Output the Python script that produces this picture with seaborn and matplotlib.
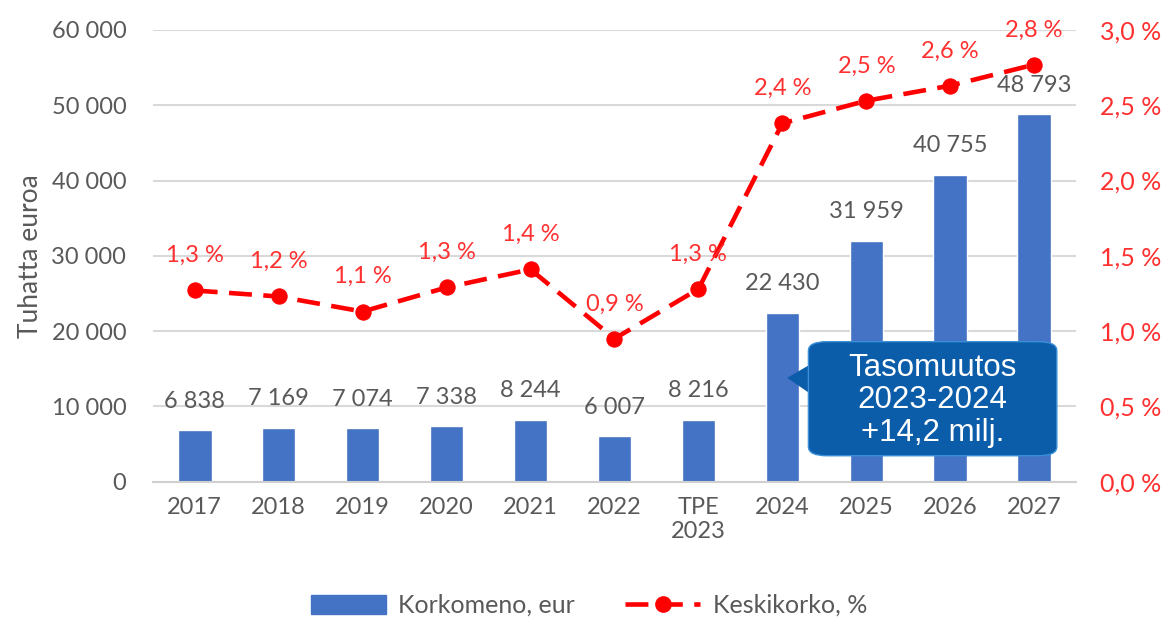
import matplotlib
matplotlib.use("Agg")
import matplotlib.pyplot as plt
import seaborn as sns
import pandas as pd
from matplotlib.patches import Patch, FancyBboxPatch, Polygon
from matplotlib.lines import Line2D
from matplotlib.ticker import FixedLocator

# Data
years = ["2017", "2018", "2019", "2020", "2021", "2022", "TPE\n2023",
         "2024", "2025", "2026", "2027"]
korkomeno = [6838, 7169, 7074, 7338, 8244, 6007, 8216,
             22430, 31959, 40755, 48793]
keskikorko = [1.27, 1.23, 1.13, 1.29, 1.41, 0.95, 1.28,
              2.38, 2.53, 2.63, 2.77]
left_ticks = [0, 10000, 20000, 30000, 40000, 50000, 60000]
right_ticks = [0.0, 0.5, 1.0, 1.5, 2.0, 2.5, 3.0]

BAR = "#4472C4"
RED = "#FF0000"
RED_TXT = "#FF3030"
GRAY = "#595959"


def fmt_thousands(v):
    return "{:,}".format(int(v)).replace(",", " ")


def fmt_pct(v, dec=1):
    return ("{:.%df}" % dec).format(v).replace(".", ",") + " %"


sns.set_style("white")
plt.rcParams["font.family"] = ["Lato", "DejaVu Sans"]

df = pd.DataFrame({"year": years, "korkomeno": korkomeno,
                   "keskikorko": keskikorko, "pos": range(len(years))})

fig = plt.figure(figsize=(11.66, 6.24), dpi=100)
ax = fig.add_axes([0.131, 0.228, 0.792, 0.724])

sns.barplot(data=df, x="year", y="korkomeno", color=BAR, width=0.4,
            saturation=1, ax=ax)
ax.set_ylim(0, 60000)
ax.set_xlim(-0.5, len(years) - 0.5)
ax.yaxis.set_major_locator(FixedLocator(left_ticks))
ax.set_yticklabels([fmt_thousands(t) for t in left_ticks])
ax.grid(axis="y", color="#D9D9D9", linewidth=1.5)
ax.set_axisbelow(True)
for s in ["top", "right", "left"]:
    ax.spines[s].set_visible(False)
ax.spines["bottom"].set_color("#D0D0D0")
ax.spines["bottom"].set_linewidth(1.5)
ax.tick_params(axis="y", length=0, pad=19, labelsize=17, labelcolor=GRAY)
ax.tick_params(axis="x", length=0, pad=11, labelsize=17, labelcolor=GRAY)
ax.set_xlabel("")
ax.set_ylabel("Tuhatta euroa", fontsize=19, color=GRAY, labelpad=6)

for p, v in zip(df["pos"], df["korkomeno"]):
    ax.annotate(fmt_thousands(v), (p, v), xytext=(0, 21),
                textcoords="offset points", ha="center", va="center",
                fontsize=17, color=GRAY)

ax2 = ax.twinx()
sns.lineplot(data=df, x="pos", y="keskikorko", color=RED, linewidth=3.3,
             marker="o", markersize=11, markeredgecolor=RED,
             dashes=False, ax=ax2)
ax2.lines[0].set_dashes([5, 2.5])
ax2.set_ylim(0, 3.0)
ax2.set_xlim(-0.5, len(years) - 0.5)
ax2.yaxis.set_major_locator(FixedLocator(right_ticks))
ax2.set_yticklabels([fmt_pct(t) for t in right_ticks])
ax2.tick_params(axis="y", length=0, pad=17, labelsize=18, labelcolor=RED_TXT)
ax2.set_ylabel("")
for s in ["top", "right", "left", "bottom"]:
    ax2.spines[s].set_visible(False)

for p, v in zip(df["pos"], df["keskikorko"]):
    ax2.annotate(fmt_pct(v), (p, v), xytext=(0, 25),
                 textcoords="offset points", ha="center", va="center",
                 fontsize=17, color=RED_TXT)

# callout box
box_fc = "#0B5DAA"
ax2.add_patch(Polygon([(0.687, 0.230), (0.714, 0.262), (0.714, 0.192)],
                      closed=True, transform=ax2.transAxes, fc=box_fc,
                      ec="none", zorder=9, clip_on=False))
ax2.add_patch(FancyBboxPatch((0.710, 0.0575), 0.269, 0.2525,
                             boxstyle="round,pad=0,rounding_size=0.02",
                             transform=ax2.transAxes, fc=box_fc,
                             ec="#3A8FD6", lw=1, zorder=10, clip_on=False))
ax2.text(0.8445, 0.180, "Tasomuutos\n2023-2024\n+14,2 milj.",
         transform=ax2.transAxes, ha="center", va="center", color="white",
         fontsize=22.5, linespacing=1.1, family=["Liberation Sans"], zorder=11)

handles = [Patch(facecolor=BAR, edgecolor=BAR),
           Line2D([0], [0], color=RED, lw=3.3, marker="o", markersize=11,
                  dashes=[5, 2.5])]
fig.legend(handles, ["Korkomeno, eur", "Keskikorko, %"], loc="center",
           bbox_to_anchor=(0.505, 0.03), ncol=2, frameon=False, fontsize=18,
           labelcolor=GRAY, handlelength=3.0, handleheight=0.8,
           columnspacing=2.0, handletextpad=0.5)

fig.savefig("out.png", dpi=100)
